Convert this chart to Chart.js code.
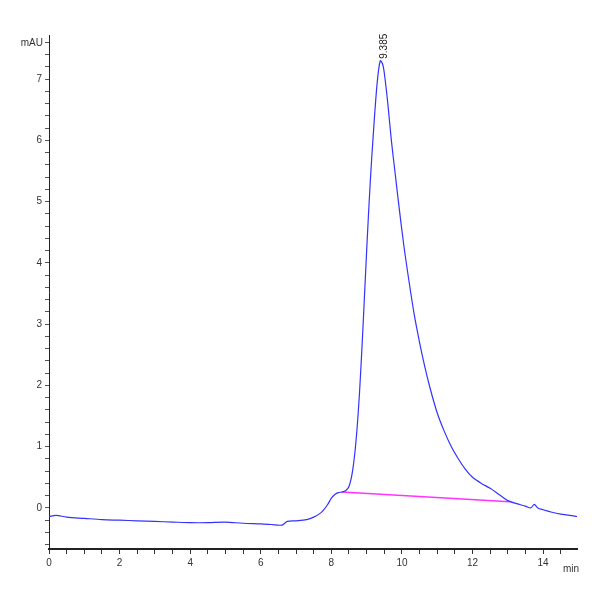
<!DOCTYPE html>
<html>
<head>
<meta charset="utf-8">
<script src="https://cdn.jsdelivr.net/npm/chart.js@4"></script>
<style>body{margin:0;background:#fff}</style>
</head>
<body>
<canvas id="chrom" width="600" height="600"></canvas>
<script>
const times = [0, 0.2, 0.5, 1, 1.5, 2, 2.5, 3, 3.5, 4, 4.5, 5, 5.5, 6, 6.3, 6.6, 6.75, 7, 7.3, 7.5, 7.7, 7.8, 7.9, 8.0, 8.1, 8.2, 8.3, 8.4, 8.5, 8.6, 8.7, 8.8, 8.9, 9.0, 9.1, 9.2, 9.3, 9.385, 9.45, 9.5, 9.6, 9.7, 9.8, 9.9, 10.05, 10.2, 10.35, 10.5, 10.65, 10.8, 11.0, 11.2, 11.4, 11.6, 11.8, 12.0, 12.25, 12.5, 12.75, 13.0, 13.25, 13.5, 13.65, 13.75, 13.85, 14.0, 14.25, 14.5, 14.75, 14.96];
const signal = [-0.14, -0.12, -0.15, -0.17, -0.19, -0.2, -0.21, -0.22, -0.23, -0.24, -0.24, -0.23, -0.25, -0.26, -0.27, -0.28, -0.22, -0.21, -0.19, -0.15, -0.08, -0.02, 0.06, 0.16, 0.22, 0.25, 0.26, 0.28, 0.35, 0.6, 1.1, 1.9, 3.0, 4.2, 5.3, 6.2, 6.95, 7.3, 7.25, 7.1, 6.6, 6.0, 5.5, 5.0, 4.3, 3.7, 3.15, 2.7, 2.3, 1.95, 1.55, 1.25, 1.0, 0.8, 0.63, 0.5, 0.4, 0.32, 0.22, 0.12, 0.07, 0.03, 0.0, 0.06, 0.0, -0.03, -0.07, -0.1, -0.12, -0.14];
const baselineTimes = [8.3, 13.05];
const baselineValues = [0.26, 0.1];
const peakTime = 9.385;
const peakValue = 7.3;
const peakLabel = "9.385";
const yLabels = [0, 1, 2, 3, 4, 5, 6, 7];
const xLabels = [0, 2, 4, 6, 8, 10, 12, 14];

const axisText = {
  id: "axisText",
  afterDraw(chart) {
    const c = chart.ctx, a = chart.chartArea;
    const xs = chart.scales.x, ys = chart.scales.y;
    c.save();
    c.fillStyle = "#333";
    c.font = "10px 'Liberation Sans', Arial";
    c.textAlign = "right";
    c.textBaseline = "middle";
    c.fillText("mAU", a.left - 6, a.top + 8);
    c.textAlign = "left";
    c.textBaseline = "top";
    c.fillText("min", a.right - 14, a.bottom + 15);
    // peak label
    c.translate(xs.getPixelForValue(peakTime) + 4, ys.getPixelForValue(peakValue) - 2);
    c.rotate(-Math.PI / 2);
    c.textAlign = "left";
    c.textBaseline = "middle";
    c.fillStyle = "#222";
    c.fillText(peakLabel, 0, 0);
    c.restore();
  }
};

new Chart(document.getElementById("chrom").getContext("2d"), {
  type: "line",
  data: {
    datasets: [
      {
        label: "signal",
        data: times.map((t, i) => ({ x: t, y: signal[i] })),
        borderColor: "#3333ff",
        borderWidth: 1.2,
        pointRadius: 0,
        tension: 0.3,
      },
      {
        label: "baseline",
        data: baselineTimes.map((t, i) => ({ x: t, y: baselineValues[i] })),
        borderColor: "#ff33ff",
        borderWidth: 1.5,
        pointRadius: 0,
      },
    ],
  },
  options: {
    responsive: false,
    animation: false,
    layout: { padding: { left: 0, right: 23, top: 35, bottom: 28 } },
    plugins: { legend: { display: false }, tooltip: { enabled: false } },
    scales: {
      x: {
        type: "linear",
        min: 0,
        max: 14.96,
        afterBuildTicks: (s) => {
          s.ticks = [];
          for (let v = 0; v <= 14.75; v += 0.5) s.ticks.push({ value: v });
        },
        ticks: {
          autoSkip: false,
          maxRotation: 0,
          color: "#333",
          font: { size: 10, family: "'Liberation Sans', Arial" },
          callback: (v) => (xLabels.includes(v) ? String(v) : ""),
        },
        grid: { drawOnChartArea: false, tickLength: 5, color: "#333" },
        border: { color: "#222", width: 2 },
      },
      y: {
        min: -0.67,
        max: 7.72,
        afterFit: (s) => { s.width = 49; },
        afterBuildTicks: (s) => {
          s.ticks = [];
          for (let i = -3; i <= 38; i++) s.ticks.push({ value: Math.round(i * 2) / 10 });
        },
        ticks: {
          autoSkip: false,
          color: "#333",
          font: { size: 10, family: "'Liberation Sans', Arial" },
          callback: (v) => (yLabels.includes(v) ? String(v) : ""),
        },
        grid: { drawOnChartArea: false, tickLength: 4, color: "#555" },
        border: { color: "#222", width: 1 },
      },
    },
  },
  plugins: [axisText],
});
</script>
</body>
</html>
